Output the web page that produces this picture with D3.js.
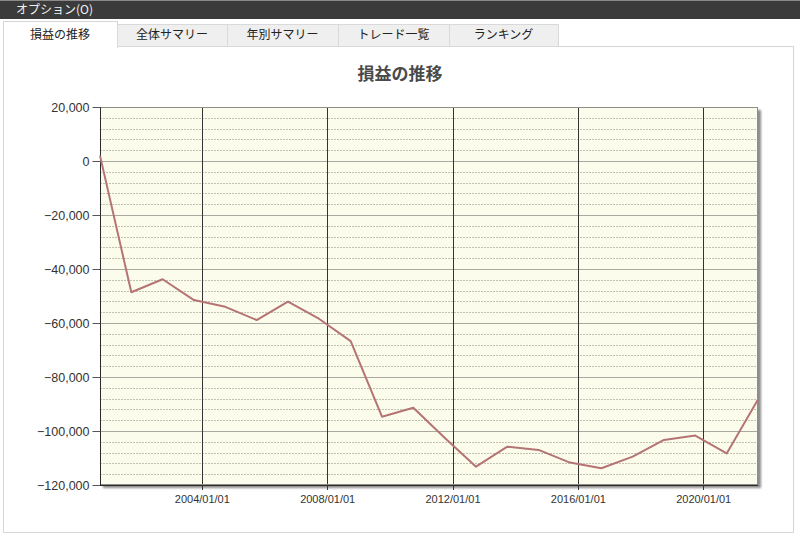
<!DOCTYPE html>
<html>
<head>
<meta charset="utf-8">
<script src="https://cdn.jsdelivr.net/npm/d3@7"></script>
<style>
  html, body { margin: 0; padding: 0; background: #ffffff; }
  svg { display: block; }
</style>
</head>
<body>
<svg id="chart" width="800" height="538"></svg>
<script>
// Yearly cumulative profit/loss
const dates = [
  "2000-10-01","2001-10-01","2002-10-01","2003-10-01","2004-10-01","2005-10-01",
  "2006-10-01","2007-10-01","2008-10-01","2009-10-01","2010-10-01","2011-10-01",
  "2012-10-01","2013-10-01","2014-10-01","2015-10-01","2016-10-01","2017-10-01",
  "2018-10-01","2019-10-01","2020-10-01","2021-10-01"
];
const profit = [
  2000, -48600, -43800, -51500, -54000, -58900,
  -52100, -58500, -66700, -94700, -91400, -102500,
  -113200, -105800, -107000, -111700, -113800, -109500,
  -103300, -101700, -108300, -88300
];
const tabLabels = ["損益の推移", "全体サマリー", "年別サマリー", "トレード一覧", "ランキング"];
const yTicks = [20000, 0, -20000, -40000, -60000, -80000, -100000, -120000];
const chartTitle = "損益の推移";
const menuLabel = "オプション(O)";

const parse = d3.timeParse("%Y-%m-%d");
const points = dates.map((d, i) => ({ date: parse(d), value: profit[i] }));

const svg = d3.select("#chart");
const jp = "'Noto Sans CJK JP', 'Noto Sans', sans-serif";
const num = "'Liberation Sans', Arial, sans-serif";

// menu bar
svg.append("rect").attr("x", 0).attr("y", 0).attr("width", 800).attr("height", 19).attr("fill", "#3b3b3b");
svg.append("rect").attr("x", 0).attr("y", 0).attr("width", 800).attr("height", 1).attr("fill", "#8a8a8a");
svg.append("text").attr("x", 16).attr("y", 14).attr("fill", "#f2f2f2")
  .attr("font-family", jp).attr("font-size", 12).text(menuLabel);

// tab panel
svg.append("rect").attr("x", 3.5).attr("y", 46.5).attr("width", 790).attr("height", 486)
  .attr("fill", "#ffffff").attr("stroke", "#d6d6d6");

const tabEdges = [3, 117, 227, 338, 449, 558];
tabLabels.forEach((t, i) => {
  const x0 = tabEdges[i], x1 = tabEdges[i + 1];
  const active = i === 0;
  svg.append("rect")
    .attr("x", x0 + 0.5).attr("y", active ? 21.5 : 24.5)
    .attr("width", x1 - x0).attr("height", active ? 26 : 22)
    .attr("fill", active ? "#ffffff" : "#efefef")
    .attr("stroke", active ? "#d6d6d6" : "#d9d9d9");
  if (active) {
    svg.append("rect").attr("x", x0 + 1).attr("y", 46).attr("width", x1 - x0 - 1).attr("height", 2).attr("fill", "#ffffff");
  }
  svg.append("text").attr("x", (x0 + x1) / 2).attr("y", 39)
    .attr("text-anchor", "middle").attr("fill", "#222")
    .attr("font-family", jp).attr("font-size", 12).text(t);
});

// title
svg.append("text").attr("x", 400).attr("y", 80).attr("text-anchor", "middle")
  .attr("fill", "#4a4a4a").attr("font-family", jp).attr("font-weight", "bold")
  .attr("font-size", 17).text(chartTitle);

// plot area
const plotLeft = 100, plotRight = 758, plotTop = 107, plotBottom = 485;
const x = d3.scaleTime()
  .domain(d3.extent(points, d => d.date))
  .range([plotLeft, plotRight]);
const y = d3.scaleLinear().domain([-120000, 20000]).range([plotBottom, plotTop]);

// drop shadow
const defs = svg.append("defs");
defs.append("filter").attr("id", "shadow").attr("x", "-5%").attr("y", "-5%").attr("width", "110%").attr("height", "110%")
  .append("feGaussianBlur").attr("stdDeviation", 1.2);
svg.append("rect").attr("x", plotLeft + 3).attr("y", plotTop + 3)
  .attr("width", plotRight - plotLeft).attr("height", plotBottom - plotTop)
  .attr("fill", "#8c8c8c").attr("filter", "url(#shadow)");

svg.append("rect").attr("x", plotLeft).attr("y", plotTop)
  .attr("width", plotRight - plotLeft).attr("height", plotBottom - plotTop)
  .attr("fill", "#fcfcec");

// minor dotted gridlines
const minor = d3.range(-120000, 20001, 4000).filter(v => v % 20000 !== 0);
svg.append("g").selectAll("line").data(minor).join("line")
  .attr("x1", plotLeft).attr("x2", plotRight)
  .attr("y1", d => Math.round(y(d)) + 0.5).attr("y2", d => Math.round(y(d)) + 0.5)
  .attr("stroke", "#c2c2b2").attr("stroke-dasharray", "2,1");

// major gridlines
svg.append("g").selectAll("line").data(yTicks).join("line")
  .attr("x1", plotLeft).attr("x2", plotRight)
  .attr("y1", d => Math.round(y(d)) + 0.5).attr("y2", d => Math.round(y(d)) + 0.5)
  .attr("stroke", "#a8a8a0");

// vertical gridlines at 4-year ticks
const xTicks = x.ticks(d3.timeYear.every(4));
svg.append("g").selectAll("line").data(xTicks).join("line")
  .attr("x1", d => Math.round(x(d)) + 0.5).attr("x2", d => Math.round(x(d)) + 0.5)
  .attr("y1", plotTop).attr("y2", plotBottom + 5)
  .attr("stroke", "#333333");

// plot border
svg.append("rect").attr("x", plotLeft + 0.5).attr("y", plotTop + 0.5)
  .attr("width", plotRight - plotLeft - 1).attr("height", plotBottom - plotTop - 1)
  .attr("fill", "none").attr("stroke", "#8f8f88");

// axes
const yAxis = d3.axisLeft(y).tickValues(yTicks).tickSize(8).tickPadding(3)
  .tickFormat(d3.format(","));
const gy = svg.append("g").attr("transform", `translate(${plotLeft + 0.5},0)`).call(yAxis);
gy.select(".domain").attr("stroke", "#2a2a2a").attr("d", `M0,${plotTop}V${plotBottom}`);
gy.selectAll(".tick line").attr("stroke", "#555");
gy.selectAll("text").attr("font-family", num).attr("font-size", 12.5).attr("fill", "#333");

const xAxis = d3.axisBottom(x).tickValues(xTicks).tickSize(0).tickPadding(10)
  .tickFormat(d3.timeFormat("%Y/%m/%d"));
const gx = svg.append("g").attr("transform", `translate(0,${plotBottom + 0.5})`).call(xAxis);
gx.select(".domain").attr("stroke", "#2a2a2a").attr("d", `M${plotLeft},0H${plotRight}`);
gx.selectAll("text").attr("font-family", num).attr("font-size", 11).attr("fill", "#333");

// profit line
const line = d3.line().x(d => x(d.date)).y(d => y(d.value));
svg.append("path").datum(points)
  .attr("d", line)
  .attr("fill", "none")
  .attr("stroke", "#b57474")
  .attr("stroke-width", 2)
  .attr("stroke-linejoin", "round");
</script>
</body>
</html>
